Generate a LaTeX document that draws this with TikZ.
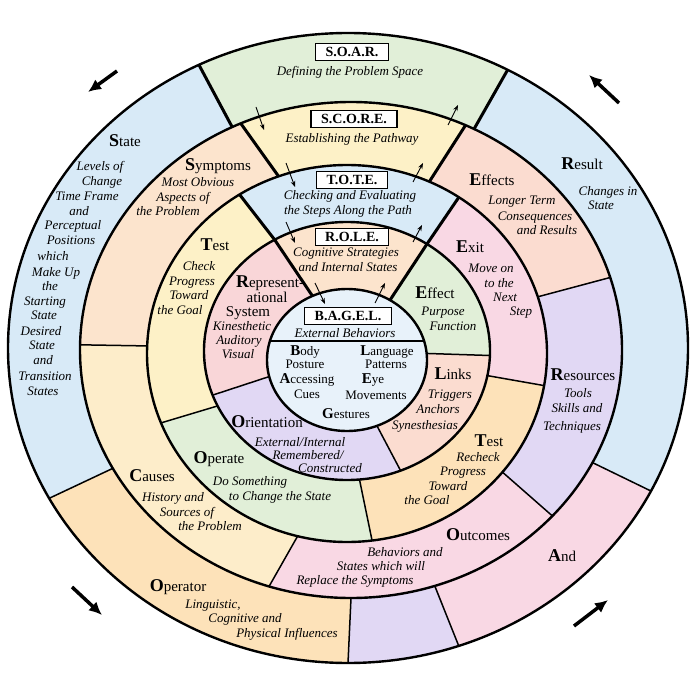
\documentclass[tikz,border=0pt]{standalone}
\usepackage{fontspec}
\setmainfont{Liberation Serif}
\usetikzlibrary{calc,arrows.meta}

\definecolor{sky}{HTML}{D8EAF7}
\definecolor{mint}{HTML}{E1EFD8}
\definecolor{butter}{HTML}{FDF1C7}
\definecolor{peach}{HTML}{FCE4CD}
\definecolor{salmon}{HTML}{FBDCD0}
\definecolor{rose}{HTML}{F9D8E4}
\definecolor{lilac}{HTML}{E1D8F4}
\definecolor{apricot}{HTML}{FDE2B9}
\definecolor{cream}{HTML}{FDEDCA}
\definecolor{blush}{HTML}{F9D6D8}
\definecolor{ice}{HTML}{E8F2FA}

% ellipse radii (pt), centres are set in the picture
\def\rxA{340}\def\ryA{315}
\def\rxB{271}\def\ryB{248}
\def\rxC{200}\def\ryC{188.5}
\def\rxD{143}\def\ryD{129}
\def\rxE{80}\def\ryE{71}

% #1 fill, #2 outer ellipse, #3 inner ellipse,
% #4/#5 outer start/end angle, #6/#7 inner start/end angle
\newcommand{\ringseg}[7]{%
  \edef\rxo{\csname rx#2\endcsname}\edef\ryo{\csname ry#2\endcsname}%
  \edef\rxi{\csname rx#3\endcsname}\edef\ryi{\csname ry#3\endcsname}%
  \fill[#1] ($(c#2)+({\rxo*cos(#4)},{\ryo*sin(#4)})$)
    arc[start angle=#4, end angle=#5, x radius=\rxo pt, y radius=\ryo pt]
    -- ($(c#3)+({\rxi*cos(#7)},{\ryi*sin(#7)})$)
    arc[start angle=#7, end angle=#6, x radius=\rxi pt, y radius=\ryi pt]
    -- cycle;}
% #1 style, #2 outer, #3 inner, #4 outer angle, #5 inner angle
\newcommand{\spoke}[5]{%
  \edef\rxo{\csname rx#2\endcsname}\edef\ryo{\csname ry#2\endcsname}%
  \edef\rxi{\csname rx#3\endcsname}\edef\ryi{\csname ry#3\endcsname}%
  \draw[#1] ($(c#2)+({\rxo*cos(#4)},{\ryo*sin(#4)})$)
    -- ($(c#3)+({\rxi*cos(#5)},{\ryi*sin(#5)})$);}

\newcommand{\firstcap}[2]{{\fontsize{18}{18}\selectfont\bfseries #1}#2}
\newcommand{\firstsm}[2]{{\fontsize{15}{15}\selectfont\bfseries #1}#2}

\tikzset{
ring line/.style={line width=2.4pt},
main spoke/.style={line width=3pt},
minor spoke/.style={line width=1.5pt},
tag/.style={
	draw, line width=1.3pt, fill=white,
	font=\fontsize{14}{16}\selectfont\bfseries,
	inner xsep=10pt, inner ysep=3.5pt,
	text height=9.5pt, text depth=0pt
},
title/.style={font=\fontsize{15}{17}\selectfont, inner sep=0pt,
	text height=11pt, text depth=3pt},
note/.style={font=\fontsize{13}{14.5}\selectfont\itshape, inner sep=0pt,
	text height=9pt, text depth=3pt},
word/.style={font=\fontsize{13}{14.5}\selectfont, inner sep=0pt,
	text height=9pt, text depth=3pt},
flow/.style={line width=0.9pt, -{Stealth[length=6pt,width=4.5pt]}},
turn/.style={line width=3.5pt, -{Latex[length=13pt,width=12pt]}}
}

\begin{document}
\begin{tikzpicture}[x=1pt, y=1pt]
\useasboundingbox (0,0) rectangle (700,-700);
\fill[white] (0,0) rectangle (700,-700);

\coordinate (cA) at (348,-348);
\coordinate (cB) at (351,-350);
\coordinate (cC) at (347,-353.5);
\coordinate (cD) at (347,-351);
\coordinate (cE) at (347,-360);

% outer ring
\ringseg{mint}{A}{B}{62}{116}{63}{116}
\ringseg{sky}{A}{B}{116}{208.5}{116}{208.5}
\ringseg{apricot}{A}{B}{208.5}{270}{208.5}{270}
\ringseg{lilac}{A}{B}{270}{289}{270}{288}
\ringseg{rose}{A}{B}{289}{333}{288}{333}
\ringseg{sky}{A}{B}{333}{422}{333}{423}
% second ring
\ringseg{butter}{B}{C}{65}{114}{65.7}{110}
\ringseg{peach}{B}{C}{114}{178.8}{110}{177.7}
\ringseg{cream}{B}{C}{178.8}{252.4}{177.7}{255.7}
\ringseg{rose}{B}{C}{252.4}{318}{255.7}{321}
\ringseg{lilac}{B}{C}{318}{377}{321}{377.5}
\ringseg{salmon}{B}{C}{377}{425}{377.5}{425.7}
% third ring
\ringseg{sky}{C}{D}{56}{122.5}{56}{120.4}
\ringseg{butter}{C}{D}{122.5}{201.6}{120.4}{205.2}
\ringseg{mint}{C}{D}{201.6}{277.2}{205.2}{275}
\ringseg{apricot}{C}{D}{277.2}{350.2}{275}{349}
\ringseg{rose}{C}{D}{350.2}{416}{349}{416}
% fourth ring
\ringseg{peach}{D}{E}{56}{120.4}{57.5}{115.6}
\ringseg{blush}{D}{E}{120.4}{200}{115.6}{193.5}
\ringseg{lilac}{D}{E}{200}{292}{193.5}{292}
\ringseg{salmon}{D}{E}{292}{358}{292}{365.3}
\ringseg{mint}{D}{E}{358}{416}{365.3}{417.5}
% core
\fill[ice] (cE) ellipse[x radius=80pt, y radius=71pt];

% dividers
\foreach \o/\i/\a/\b in {A/B/116/116, A/B/62/63, B/C/114/110, B/C/65/65.7,
	C/D/122.5/120.4, C/D/56/56, D/E/120.4/115.6, D/E/56/57.5}
	{\spoke{main spoke}{\o}{\i}{\a}{\b}}
\foreach \o/\i/\a/\b in {A/B/208.5/208.5, A/B/270/270, A/B/289/288, A/B/333/333,
	B/C/178.8/177.7, B/C/252.4/255.7, B/C/318/321, B/C/17/17.5,
	C/D/201.6/205.2, C/D/277.2/275, C/D/350.2/349,
	D/E/200/193.5, D/E/292/292, D/E/358/365.3}
	{\spoke{minor spoke}{\o}{\i}{\a}{\b}}

\draw[ring line] (cA) ellipse[x radius=340pt, y radius=315pt];
\draw[ring line] (cB) ellipse[x radius=271pt, y radius=248pt];
\draw[ring line] (cC) ellipse[x radius=200pt, y radius=188.5pt];
\draw[ring line] (cD) ellipse[x radius=143pt, y radius=129pt];
\draw[ring line] (cE) ellipse[x radius=80pt, y radius=71pt];
\draw[line width=1.6pt] ($(cE)+({80*cos(15.5)},{71*sin(15.5)})$)
	-- ($(cE)+({80*cos(164.5)},{71*sin(164.5)})$);

% S.O.A.R. ring
\node[tag] (soar) at (352,-52) {S.O.A.R.};
\node[note] (soarnote) at (350,-73) {Defining the Problem Space};
\node[title] (state) at (125,-143) {\firstcap{S}{tate}};
\foreach \x/\y/\t [count=\i] in {100/168/Levels of, 102/183/Change,
	87/198/Time Frame, 79/213/and, 73/227/Perceptual, 71/241/Positions,
	53/258/which, 56/273/Make Up, 50/287/the, 45/302/Starting, 44/316/State,
	41/332/Desired, 42/346/State, 43/361/and, 45/377/Transition, 43/392/States}
	\node[note] (statenote\i) at (\x,-\y) {\t};
\node[title] (result) at (582,-166) {\firstcap{R}{esult}};
\node[note] (resultnote1) at (608,-193) {Changes in};
\node[note] (resultnote2) at (601,-207) {State};
\node[title] (and) at (562,-557) {\firstcap{A}{nd}};
\node[title] (operator) at (178,-587) {\firstcap{O}{perator}};
\foreach \x/\y/\t [count=\i] in {213/605/{Linguistic,}, 245/619/Cognitive and,
	287/634/Physical Influences}
	\node[note] (operatornote\i) at (\x,-\y) {\t};

% S.C.O.R.E. ring
\node[tag] (score) at (354,-119) {S.C.O.R.E.};
\node[note] (scorenote) at (352,-140) {Establishing the Pathway};
\node[title] (symptoms) at (218,-167) {\firstcap{S}{ymptoms}};
\foreach \x/\y/\t [count=\i] in {198/184/Most Obvious, 183/199/Aspects of,
	168/213/the Problem}
	\node[note] (symptomsnote\i) at (\x,-\y) {\t};
\node[title] (effects) at (492,-182) {\firstcap{E}{ffects}};
\foreach \x/\y/\t [count=\i] in {522/202/Longer Term, 535/218/Consequences,
	547/232/and Results}
	\node[note] (effectsnote\i) at (\x,-\y) {\t};
\node[title] (resources) at (583,-376) {\firstcap{R}{esources}};
\foreach \x/\y/\t [count=\i] in {578/394/Tools, 577/409/Skills and,
	572/427/Techniques}
	\node[note] (resourcesnote\i) at (\x,-\y) {\t};
\node[title] (outcomes) at (478,-536) {\firstcap{O}{utcomes}};
\foreach \x/\y/\t [count=\i] in {405/553/Behaviors and, 381/567/States which will,
	355/581/Replace the Symptoms}
	\node[note] (outcomesnote\i) at (\x,-\y) {\t};
\node[title] (causes) at (152,-477) {\firstcap{C}{auses}};
\foreach \x/\y/\t [count=\i] in {173/498/History and, 187/513/Sources of,
	210/527/the Problem}
	\node[note] (causesnote\i) at (\x,-\y) {\t};

% T.O.T.E. ring
\node[tag] (tote) at (352,-180) {T.O.T.E.};
\node[note] (totenote1) at (350,-197) {Checking and Evaluating};
\node[note] (totenote2) at (348,-212) {the Steps Along the Path};
\node[title] (checktest) at (215,-247) {\firstcap{T}{est}};
\foreach \x/\y/\t [count=\i] in {199/267/Check, 192/282/Progress,
	189/296/Toward, 180/311/the Goal}
	\node[note] (checknote\i) at (\x,-\y) {\t};
\node[title] (exit) at (470,-249) {\firstcap{E}{xit}};
\foreach \x/\y/\t [count=\i] in {491/269/Move on, 499/284/to the,
	505/298/Next, 521/312/Step}
	\node[note] (exitnote\i) at (\x,-\y) {\t};
\node[title] (rechecktest) at (489,-442) {\firstcap{T}{est}};
\foreach \x/\y/\t [count=\i] in {478/458/Recheck, 463/472/Progress,
	448/487/Toward, 427/501/the Goal}
	\node[note] (recheck\i) at (\x,-\y) {\t};
\node[title] (operate) at (219,-459) {\firstcap{O}{perate}};
\foreach \x/\y/\t [count=\i] in {250/482/Do Something, 280/497/to Change the State}
	\node[note] (operatenote\i) at (\x,-\y) {\t};

% R.O.L.E. ring
\node[tag] (role) at (352,-237) {R.O.L.E.};
\node[note] (rolenote1) at (346,-254) {Cognitive Strategies};
\node[note] (rolenote2) at (348,-268) {and Internal States};
\node[title] (repr) at (270,-283) {\firstcap{R}{epresent-}};
\node[title] (repr2) at (267,-298) {ational};
\node[title] (repr3) at (248,-312) {System};
\foreach \x/\y/\t [count=\i] in {242/327/Kinesthetic, 239/341/Auditory, 238/355/Visual}
	\node[note] (reprnote\i) at (\x,-\y) {\t};
\node[title] (effect) at (435,-294) {\firstcap{E}{ffect}};
\foreach \x/\y/\t [count=\i] in {443/312/Purpose, 453/327/Function}
	\node[note] (effectnote\i) at (\x,-\y) {\t};
\node[title] (links) at (453,-375) {\firstcap{L}{inks}};
\foreach \x/\y/\t [count=\i] in {450/395/Triggers, 438/410/Anchors,
	425/426/Synesthesias}
	\node[note] (linksnote\i) at (\x,-\y) {\t};
\node[title] (orientation) at (267,-423) {\firstcap{O}{rientation}};
\foreach \x/\y/\t [count=\i] in {300/443/{External/Internal}, 308/456/{Remembered/},
	330/469/Constructed}
	\node[note] (orientnote\i) at (\x,-\y) {\t};

% B.A.G.E.L. core
\node[tag] (bagel) at (348,-316) {B.A.G.E.L.};
\node[note] (bagelnote) at (345,-334) {External Behaviors};
\node[word] (body) at (305,-352) {\firstsm{B}{ody}};
\node[word] (posture) at (305,-365) {Posture};
\node[word] (accessing) at (307,-380) {\firstsm{A}{ccessing}};
\node[word] (cues) at (307,-395) {Cues};
\node[word] (language) at (387,-352) {\firstsm{L}{anguage}};
\node[word] (patterns) at (386,-365) {Patterns};
\node[word] (eye) at (373,-380) {\firstsm{E}{ye}};
\node[word] (movements) at (376,-396) {Movements};
\node[word] (gestures) at (346,-415) {\firstsm{G}{estures}};

% flow across the rings
\foreach \xa/\ya/\xb/\yb in {256/107/264/130, 286/163/295/187,
	286/222/295/243, 315/283/325/304}
	\draw[flow] (\xa,-\ya) -- (\xb,-\yb);
\foreach \xa/\ya/\xb/\yb in {448/125/458/105, 413/182/423/163,
	413/242/422/225, 375/303/385/283}
	\draw[flow] (\xa,-\ya) -- (\xb,-\yb);

% turning arrows
\draw[turn] (117,-71) -- (88,-92);
\draw[turn] (619,-103) -- (589,-75);
\draw[turn] (72,-587) -- (102,-615);
\draw[turn] (574,-626) -- (608,-600);
\end{tikzpicture}
\end{document}
